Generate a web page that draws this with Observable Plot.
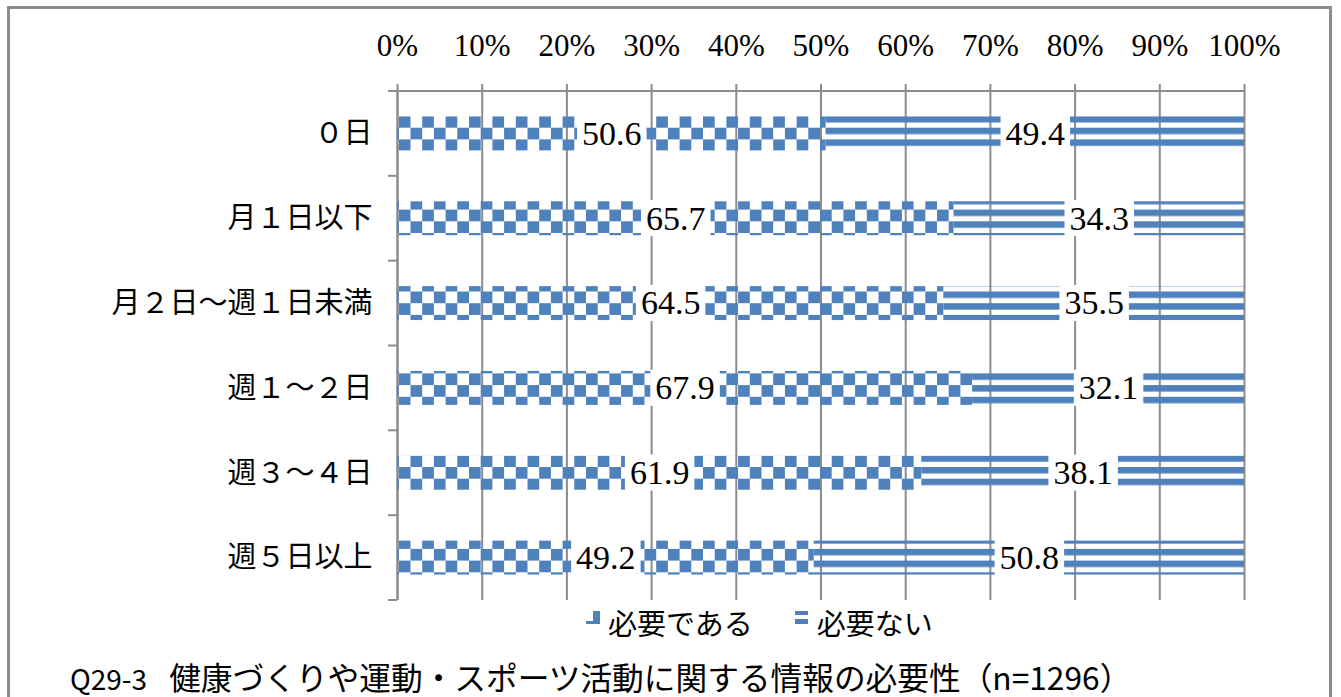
<!DOCTYPE html>
<html>
<head>
<meta charset="utf-8">
<script src="https://cdn.jsdelivr.net/npm/d3@7"></script>
<script src="https://cdn.jsdelivr.net/npm/@observablehq/plot@0.6"></script>
<style>
  html, body { margin: 0; padding: 0; background: #fff; overflow: hidden; width: 1341px; height: 697px; }
  #frame { position: absolute; left: 7px; top: 6px; width: 1325px; height: 800px; border: 3px solid #8c8c8c; box-sizing: border-box; }
  #chart { position: absolute; left: 0; top: 0; }
  g[aria-label^="x-axis"] text { font-size: 31px; fill: #000; stroke: none; }
  g[aria-label^="y-axis"] text { font-size: 29px; fill: #000; stroke: none; }
  g[aria-label^="x-axis"] path, g[aria-label^="x-axis"] line { stroke: #8c8c8c; stroke-width: 2px; }
  #legend { position: absolute; left: 586px; top: 601px; display: flex; align-items: center;
    font-family: "Liberation Serif", "Noto Sans CJK JP", serif; font-size: 29px; color: #000; }
  #legend .item { display: flex; align-items: center; }
  #legend svg { margin-right: 8px; margin-top: -8px; }
  #caption { position: absolute; left: 70px; top: 655px; font-family: "Noto Sans CJK JP", "Noto Sans", sans-serif;
    font-size: 31.7px; color: #000; white-space: pre; line-height: 42px; }
  #caption .lead { font-size: 28px; margin-right: 22px; }
</style>
</head>
<body>
<svg width="0" height="0" style="position:absolute">
  <defs>
    <pattern id="checker" patternUnits="userSpaceOnUse" width="23.4" height="23.4" patternTransform="translate(1,-1)">
      <rect x="0" y="0" width="11.7" height="11.7" fill="#4F81BD"></rect>
      <rect x="11.7" y="11.7" width="11.7" height="11.7" fill="#4F81BD"></rect>
    </pattern>
    <pattern id="stripes" patternUnits="userSpaceOnUse" width="24" height="11.7" patternTransform="translate(0,-1)">
      <rect x="0" y="0" width="24" height="6.5" fill="#4F81BD"></rect>
    </pattern>
  </defs>
</svg>
<div id="frame"></div>
<div id="chart"></div>
<div id="legend"></div>
<div id="caption"></div>
<script>
// ---- data ----
const categories = ["０日", "月１日以下", "月２日～週１日未満", "週１～２日", "週３～４日", "週５日以上"];
const seriesNames = ["必要である", "必要ない"];
const needed    = [50.6, 65.7, 64.5, 67.9, 61.9, 49.2];
const notNeeded = [49.4, 34.3, 35.5, 32.1, 38.1, 50.8];
const xTicks = [0, 10, 20, 30, 40, 50, 60, 70, 80, 90, 100];
const captionLead = "Q29-3";
const captionText = "健康づくりや運動・スポーツ活動に関する情報の必要性（n=1296）";

const seriesValues = [needed, notNeeded];
const data = categories.flatMap((c, i) =>
  seriesNames.map((s, j) => ({cat: c, series: s, value: seriesValues[j][i]})));

const gray = "#8c8c8c";

// boundary ticks on the y axis + top axis line
function frameMark(index, scales, values, dims) {
  const x = scales.x;
  const top = dims.marginTop, bottom = dims.height - dims.marginBottom;
  const n = categories.length;
  const step = (bottom - top) / n;
  const g = d3.create("svg:g").attr("stroke", gray).attr("stroke-width", 2);
  for (let k = 0; k <= n; k++) {
    const yy = top + k * step;
    g.append("line").attr("x1", x(0) - 9).attr("x2", x(0)).attr("y1", yy).attr("y2", yy);
  }
  g.append("line").attr("x1", x(0)).attr("x2", x(100)).attr("y1", top).attr("y2", top);
  return g.node();
}

const chart = Plot.plot({
  width: 1341,
  height: 605,
  marginTop: 91,
  marginLeft: 397,
  marginRight: 97,
  marginBottom: 5,
  style: {fontFamily: '"Liberation Serif", "Noto Sans CJK JP", serif', fontSize: "34px", color: "#000", background: "transparent"},
  x: {domain: [0, 100], ticks: xTicks, tickFormat: d => d + "%", axis: "top", label: null, tickSize: 8, tickPadding: 28},
  y: {domain: categories, paddingInner: 0.6, paddingOuter: 0.3, round: false, label: null, tickSize: 0, tickPadding: 25},
  color: {domain: seriesNames, range: ["url(#checker)", "url(#stripes)"]},
  marks: [
    Plot.gridX(xTicks, {stroke: gray, strokeOpacity: 1, strokeWidth: 2}),
    Plot.ruleX([0], {stroke: gray, strokeWidth: 2}),
    Plot.barX(data, {y: "cat", x: "value", fill: "series"}),
    frameMark,
    Plot.text(data, Plot.stackX({y: "cat", x: "value", text: d => d.value.toFixed(1), fill: "#000"}))
  ]
});

document.getElementById("chart").appendChild(chart);

// white boxes behind value labels
const svg = d3.select(chart.tagName.toLowerCase() === "svg" ? chart : chart.querySelector("svg"));
svg.selectAll('g[aria-label="text"] text').each(function () {
  const b = this.getBBox();
  const cy = b.y + b.height / 2;
  const r = document.createElementNS("http://www.w3.org/2000/svg", "rect");
  r.setAttribute("x", b.x - 5);
  r.setAttribute("width", b.width + 10);
  r.setAttribute("y", cy - 18);
  r.setAttribute("height", 36);
  r.setAttribute("fill", "#fff");
  r.setAttribute("stroke", "none");
  const t = this.getAttribute("transform");
  if (t) r.setAttribute("transform", t);
  this.parentNode.insertBefore(r, this);
});

// legend
const legend = d3.select("#legend");
const swatches = [
  g => { g.append("rect").attr("x", 7).attr("y", 0).attr("width", 7).attr("height", 10).attr("fill", "#4F81BD");
         g.append("rect").attr("x", 0).attr("y", 10).attr("width", 14).attr("height", 3).attr("fill", "#4F81BD"); },
  g => { g.append("rect").attr("x", 0).attr("y", 0).attr("width", 13).attr("height", 4).attr("fill", "#4F81BD");
         g.append("rect").attr("x", 0).attr("y", 8).attr("width", 13).attr("height", 5).attr("fill", "#4F81BD"); }
];
seriesNames.forEach((s, i) => {
  const item = legend.append("div").attr("class", "item").style("margin-right", i === 0 ? "42px" : "0");
  const sv = item.append("svg").attr("width", 14).attr("height", 14);
  swatches[i](sv);
  item.append("span").text(s);
});

const cap = d3.select("#caption");
cap.append("span").attr("class", "lead").text(captionLead);
cap.append("span").text(captionText);
</script>
</body>
</html>
